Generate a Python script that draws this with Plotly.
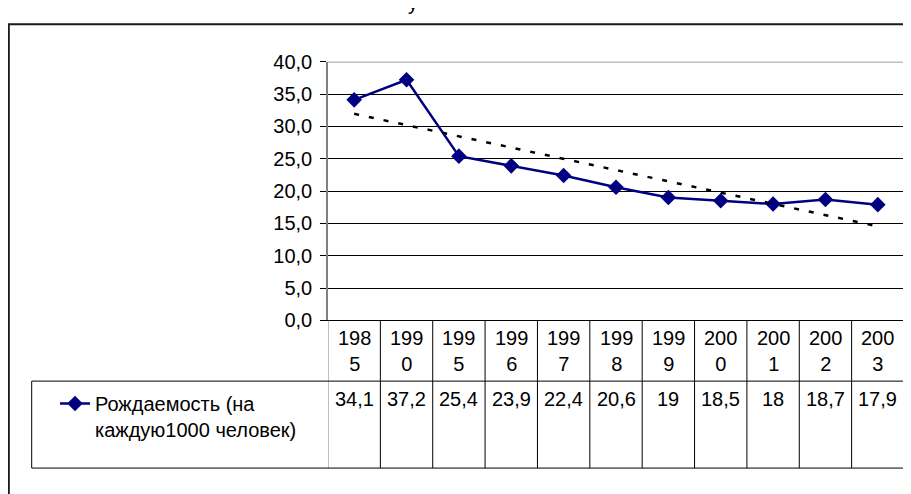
import numpy as np
import plotly.graph_objects as go

# ---- data ----
years = ["1985", "1990", "1995", "1996", "1997", "1998", "1999", "2000", "2001", "2002", "2003"]
birth_rate = [34.1, 37.2, 25.4, 23.9, 22.4, 20.6, 19, 18.5, 18, 18.7, 17.9]
series_name = "Рождаемость (на<br>каждую1000 человек)"
y_ticks = [0, 5, 10, 15, 20, 25, 30, 35, 40]
title_fragment = "у"

# ---- layout constants (screen pixels) ----
W, H = 911, 494
OX, OY = 8, 8          # page body margin offset
FONT = "Liberation Sans, Arial, sans-serif"
NAVY = "#000080"
PLOT_L, PLOT_R = 328, 904
PLOT_T, PLOT_B = 52.7, 323.5
ROW1_B = 387      # header row bottom
ROW2_B = 478      # data row bottom
LEG_L = 31.7      # legend cell left border


def px(p):
    return (p - OX) / W


def py(p):
    return 1 - (p - OY) / H


idx = list(range(len(years)))
coef = np.polyfit(idx, birth_rate, 1)
trend = np.polyval(coef, idx)

fig = go.Figure()
fig.add_trace(go.Scatter(
    x=idx, y=birth_rate, mode="lines+markers", name=series_name,
    line=dict(color=NAVY, width=2.5),
    marker=dict(symbol="diamond", size=12, color=NAVY),
))
fig.add_trace(go.Scatter(
    x=idx, y=trend, mode="lines", showlegend=False, hoverinfo="skip",
    line=dict(color="black", width=2.5, dash="5px,10px"),
))

shapes = []
# outer chart-area border (right/bottom edges lie outside the picture)
shapes.append(dict(type="rect", xref="paper", yref="paper",
                   x0=px(8.9), y0=py(13.5), x1=1.05, y1=-0.05,
                   line=dict(color="#1a1a1a", width=1.8), fillcolor="rgba(0,0,0,0)"))
# grey top gridline
shapes.append(dict(type="line", xref="paper", yref="y", x0=px(PLOT_L), x1=px(PLOT_R),
                   y0=40, y1=40, line=dict(color="#808080", width=1.5)))
# data table vertical lines
n = len(years)
for k in range(n + 1):
    col = "#808080" if k == 0 else "black"
    shapes.append(dict(type="line", xref="x", yref="paper", x0=k - 0.5, x1=k - 0.5,
                       y0=py(PLOT_B), y1=py(ROW2_B), line=dict(color=col, width=1)))
# legend cell left border
shapes.append(dict(type="line", xref="paper", yref="paper", x0=px(LEG_L), x1=px(LEG_L),
                   y0=py(ROW1_B), y1=py(ROW2_B), line=dict(color="black", width=1)))
# horizontal table lines
for yy in (ROW1_B, ROW2_B):
    shapes.append(dict(type="line", xref="paper", yref="paper", x0=px(LEG_L), x1=px(PLOT_R),
                       y0=py(yy), y1=py(yy), line=dict(color="black", width=1)))

annotations = []
for i, yr in enumerate(years):
    annotations.append(dict(text=yr[:3] + "<br>" + yr[3:], x=i, xref="x",
                            y=py((PLOT_B + ROW1_B) / 2), yref="paper", yanchor="middle",
                            showarrow=False, font=dict(family=FONT, size=20, color="black")))
for i, v in enumerate(birth_rate):
    annotations.append(dict(text=f"{v:g}".replace(".", ","), x=i, xref="x",
                            y=py(406), yref="paper", yanchor="middle",
                            showarrow=False, font=dict(family=FONT, size=20, color="black")))
annotations.append(dict(text=title_fragment, x=px(413), xref="paper", y=py(5), yref="paper",
                        yanchor="bottom", showarrow=False,
                        font=dict(family=FONT, size=20, color="black")))

fig.update_layout(
    width=W, height=H, autosize=False,
    margin=dict(l=0, r=0, t=0, b=0),
    paper_bgcolor="white", plot_bgcolor="white",
    separators=", ",
    font=dict(family=FONT, size=20, color="black"),
    hovermode=False,
    showlegend=True,
    legend=dict(x=px(55), y=py(390), xanchor="left", yanchor="top",
                bgcolor="rgba(0,0,0,0)", borderwidth=0, valign="top",
                font=dict(family=FONT, size=20, color="black")),
    xaxis=dict(range=[-0.5, n - 0.5], domain=[px(PLOT_L), px(PLOT_R)],
               showgrid=False, zeroline=False, showticklabels=False, ticks="",
               showline=True, linecolor="black", linewidth=1, fixedrange=True),
    yaxis=dict(range=[0, 40], domain=[py(PLOT_B), py(PLOT_T)],
               tickvals=y_ticks, tickformat=".1f",
               showgrid=True, gridcolor="black", gridwidth=1, zeroline=False,
               showline=True, linecolor="#808080", linewidth=1.5,
               ticks="outside", ticklen=6, tickcolor="black",
               ticklabelstandoff=4,
               tickfont=dict(family=FONT, size=20, color="black"), fixedrange=True),
    shapes=shapes,
    annotations=annotations,
)

fig.write_html("out.html")
